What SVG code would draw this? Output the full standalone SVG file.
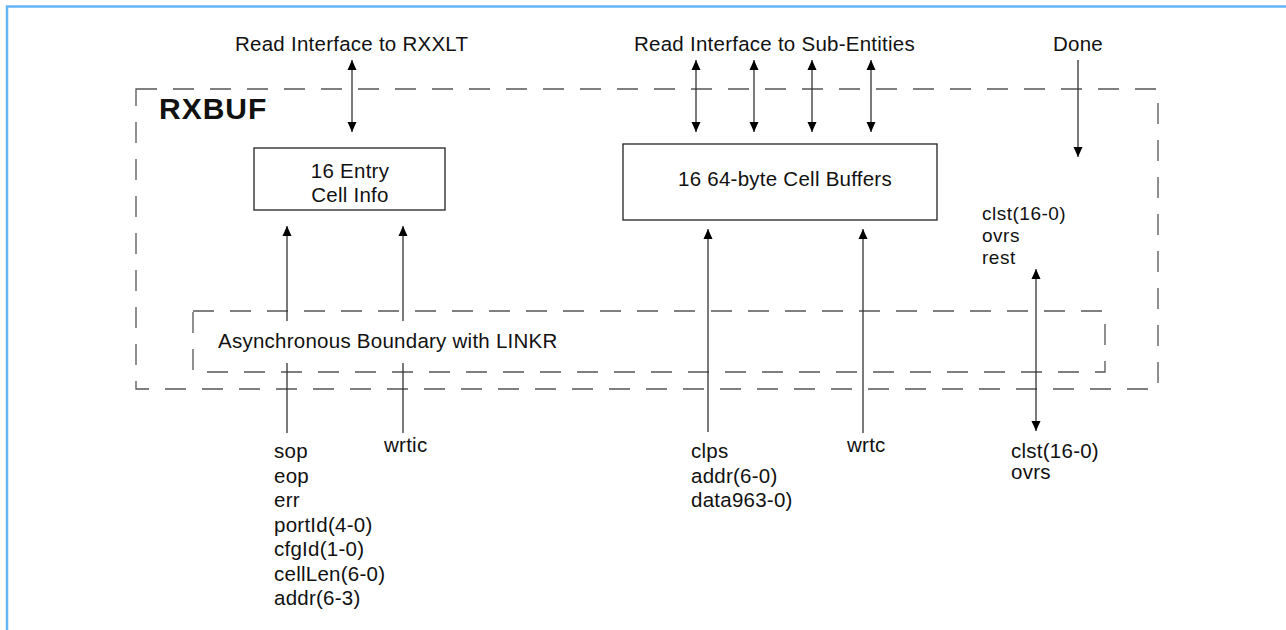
<svg xmlns="http://www.w3.org/2000/svg" width="1286" height="630" viewBox="0 0 1286 630">
<style>
text{font-family:"Liberation Sans",Arial,sans-serif;font-size:20.5px;letter-spacing:0.25px;fill:#111}
.title{font-weight:bold;font-size:30px;letter-spacing:1px}
.tight{font-size:19px;letter-spacing:0.5px}
.dash{fill:none;stroke:#555;stroke-width:1.3;stroke-dasharray:21 16}
.box{fill:#fff;stroke:#222;stroke-width:1.3}
.conn{fill:none;stroke:#333;stroke-width:1.3}
.mid{text-anchor:middle}
</style>
<defs>
<marker id="ah" viewBox="0 0 10 10" refX="10" refY="5" markerWidth="10" markerHeight="10" markerUnits="userSpaceOnUse" orient="auto-start-reverse">
<path d="M0,0.5 L10,5 L0,9.5 z" fill="#000"/>
</marker>
</defs>
<rect width="1286" height="630" fill="#fff"/>
<path d="M7,630 V6.5 H1286" fill="none" stroke="#64B5F6" stroke-width="2.5"/>

<g id="rxbuf">
<rect class="dash" x="136" y="89" width="1022" height="300"/>
<text class="title" x="159" y="119">RXBUF</text>
</g>

<g id="async-boundary">
<rect class="dash" x="193" y="311" width="912" height="61"/>
<text x="218" y="348">Asynchronous Boundary with LINKR</text>
</g>

<g id="cell-info">
<rect class="box" x="254" y="148" width="191" height="62"/>
<text class="mid" x="350" y="178">16 Entry<tspan x="350" dy="24">Cell Info</tspan></text>
</g>

<g id="cell-buffers">
<rect class="box" x="623" y="144" width="314" height="76"/>
<text class="mid" x="785" y="186">16 64-byte Cell Buffers</text>
</g>

<g id="labels">
<text x="235" y="51">Read Interface to RXXLT</text>
<text x="634" y="51">Read Interface to Sub-Entities</text>
<text x="1053" y="51">Done</text>
<text class="tight" x="982" y="220">clst(16-0)<tspan x="982" dy="22">ovrs</tspan><tspan x="982" dy="22">rest</tspan></text>
<text x="274" y="458">sop<tspan x="274" dy="24.5">eop</tspan><tspan x="274" dy="24.5">err</tspan><tspan x="274" dy="24.5">portId(4-0)</tspan><tspan x="274" dy="24.5">cfgId(1-0)</tspan><tspan x="274" dy="24.5">cellLen(6-0)</tspan><tspan x="274" dy="24.5">addr(6-3)</tspan></text>
<text x="384" y="452">wrtic</text>
<text x="691" y="458">clps<tspan x="691" dy="24.5">addr(6-0)</tspan><tspan x="691" dy="24.5">data963-0)</tspan></text>
<text x="847" y="452">wrtc</text>
<text x="1011" y="458">clst(16-0)<tspan x="1011" dy="21">ovrs</tspan></text>
</g>

<g id="connectors">
<line class="conn" x1="352" y1="60" x2="352" y2="132" marker-start="url(#ah)" marker-end="url(#ah)"/>
<line class="conn" x1="696" y1="60" x2="696" y2="132" marker-start="url(#ah)" marker-end="url(#ah)"/>
<line class="conn" x1="754" y1="60" x2="754" y2="132" marker-start="url(#ah)" marker-end="url(#ah)"/>
<line class="conn" x1="812" y1="60" x2="812" y2="132" marker-start="url(#ah)" marker-end="url(#ah)"/>
<line class="conn" x1="871" y1="60" x2="871" y2="132" marker-start="url(#ah)" marker-end="url(#ah)"/>
<line class="conn" x1="1078" y1="60" x2="1078" y2="157" marker-end="url(#ah)"/>
<line class="conn" x1="287" y1="433" x2="287" y2="363"/>
<line class="conn" x1="287" y1="321" x2="287" y2="226" marker-end="url(#ah)"/>
<line class="conn" x1="403" y1="433" x2="403" y2="363"/>
<line class="conn" x1="403" y1="321" x2="403" y2="226" marker-end="url(#ah)"/>
<line class="conn" x1="708" y1="432" x2="708" y2="229" marker-end="url(#ah)"/>
<line class="conn" x1="863" y1="433" x2="863" y2="229" marker-end="url(#ah)"/>
<line class="conn" x1="1036" y1="269" x2="1036" y2="431" marker-start="url(#ah)" marker-end="url(#ah)"/>
</g>
</svg>
